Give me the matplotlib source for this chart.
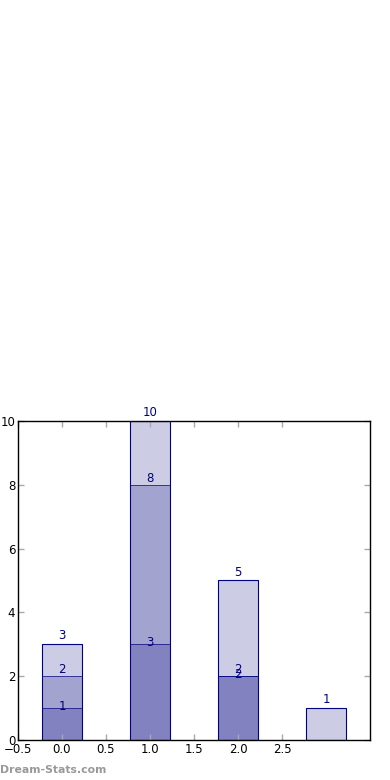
import matplotlib.pyplot as plt

# three overlapping series, drawn back to front
x_a = [0, 1, 2, 3]
h_a = [3, 10, 5, 1]
x_b = [0, 1, 2]
h_b = [2, 8, 2]
x_c = [0, 1, 2]
h_c = [1, 3, 2]
xticks = [-0.5, 0.0, 0.5, 1.0, 1.5, 2.0, 2.5]
yticks = [0, 2, 4, 6, 8, 10]

fig = plt.figure(figsize=(3.9, 7.8), dpi=100)
ax = fig.add_axes([0.046, 0.0513, 0.903, 0.409])

series = [(x_a, h_a, 0.15), (x_b, h_b, 0.1), (x_c, h_c, -0.06)]
for i, (xs, hs, off) in enumerate(series):
    ax.bar(xs, hs, width=0.45, color=(0, 0, 0.5, 0.2), edgecolor='navy',
           linewidth=0.8 if i == 0 else 0.5)
    for x, h in zip(xs, hs):
        ax.text(x, h + off, str(h), ha='center', va='baseline', color='navy', fontsize=8.5)

ax.set_xlim(-0.5, 3.5)
ax.set_ylim(0, 10)
ax.set_xticks(xticks)
ax.set_yticks(yticks)
ax.set_xticklabels(['\u22120.5', '0.0', '0.5', '1.0', '1.5', '2.0', '2.5'])
ax.tick_params(direction='in', top=True, right=True, color='#aaaaaa', length=4, width=1,
               labelsize=8.5, pad=2)
for s in ax.spines.values():
    s.set_linewidth(1)

fig.text(0.0, 0.006, 'Dream-Stats.com', color='#999999', fontsize=7.8, fontweight='bold',
         ha='left', va='bottom')

fig.savefig('out.png', dpi=100)
